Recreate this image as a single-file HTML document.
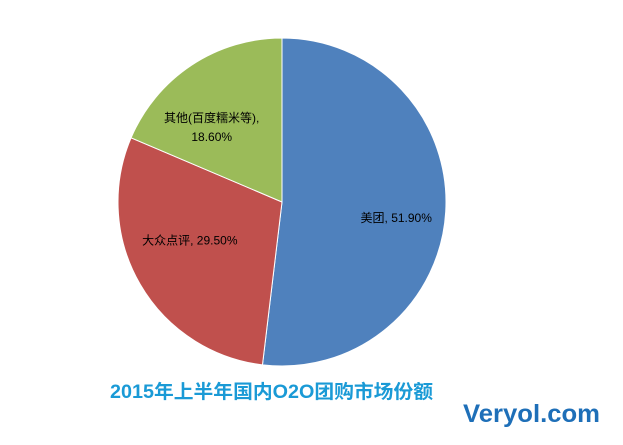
<!DOCTYPE html>
<html><head><meta charset="utf-8"><style>
body{margin:0;background:#fff;width:623px;height:440px;overflow:hidden;font-family:"Liberation Sans","Noto Sans CJK SC",sans-serif}
</style></head><body>
<svg id="chart" width="623" height="440" xmlns="http://www.w3.org/2000/svg">
<g id="slices"></g><g id="labels" font-size="12" fill="#000"></g>
<text x="110" y="398" font-size="19" font-weight="bold" fill="#1a9ad6" textLength="323" lengthAdjust="spacingAndGlyphs" font-family="Liberation Sans, Noto Sans CJK SC, sans-serif">2015年上半年国内O2O团购市场份额</text>
<text x="463" y="422" font-size="25" font-weight="bold" fill="#1e6fb8" textLength="137" lengthAdjust="spacingAndGlyphs">Veryol.com</text>
</svg>
<script>
const categories=["美团","大众点评","其他(百度糯米等)"];
const values=[51.9,29.5,18.6];
const colors=["#4f81bd","#c0504d","#9bbb59"];
const cx=282,cy=202,r=164;
const ns="http://www.w3.org/2000/svg";
const total=values.reduce((a,b)=>a+b,0);
let a0=-Math.PI/2;
const sg=document.getElementById('slices'),lg=document.getElementById('labels');
const labelShift=[[16,10],[-7,-11],[-16,7]];
values.forEach((v,i)=>{
 const a1=a0+v/total*2*Math.PI;
 const x0=cx+r*Math.cos(a0),y0=cy+r*Math.sin(a0),x1=cx+r*Math.cos(a1),y1=cy+r*Math.sin(a1);
 const p=document.createElementNS(ns,'path');
 p.setAttribute('d',`M${cx},${cy}L${x0},${y0}A${r},${r} 0 ${a1-a0>Math.PI?1:0} 1 ${x1},${y1}Z`);
 p.setAttribute('fill',colors[i]);p.setAttribute('stroke','#fff');p.setAttribute('stroke-width','1');
 
 
 sg.appendChild(p);
 const am=(a0+a1)/2,lx=cx+r*0.6*Math.cos(am)+labelShift[i][0],ly=cy+r*0.6*Math.sin(am)+labelShift[i][1];
 const pct=v.toFixed(2)+"%";
 const t=document.createElementNS(ns,'text');
 t.setAttribute('text-anchor','middle');
 
 
 if(i===2){
  t.setAttribute('x',lx);t.setAttribute('y',ly-5);
  const s1=document.createElementNS(ns,'tspan');s1.textContent=categories[i]+",";
  const s2=document.createElementNS(ns,'tspan');s2.setAttribute('x',lx);s2.setAttribute('dy','19');s2.textContent=pct;
  t.appendChild(s1);t.appendChild(s2);
 }else{
  t.setAttribute('x',lx);t.setAttribute('y',ly+4);t.textContent=categories[i]+", "+pct;
 }
 lg.appendChild(t);
 a0=a1;
});
</script>
</body></html>
